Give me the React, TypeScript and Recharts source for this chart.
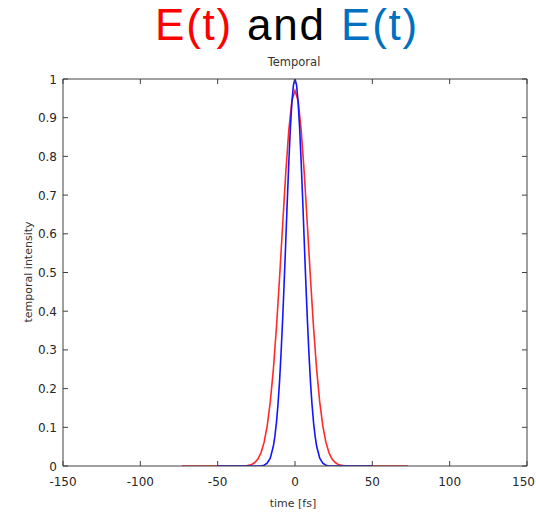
import { LineChart, Line, XAxis, YAxis } from 'recharts';

const xTicks = [-150, -100, -50, 0, 50, 100, 150];
const yTicks = [0, 0.1, 0.2, 0.3, 0.4, 0.5, 0.6, 0.7, 0.8, 0.9, 1];

// wider pulse (red)
const redTime = [-73, -40, -32, -30, -28, -26, -24, -22, -20, -18, -16, -14, -12, -10, -8, -6, -4, -2, 0,
  2, 4, 6, 8, 10, 12, 14, 16, 18, 20, 22, 24, 26, 28, 30, 32, 40, 73];
const redIntensity = [0, 0, 0, 0.002, 0.004, 0.009, 0.018, 0.034, 0.061, 0.103, 0.165, 0.249, 0.358, 0.485, 0.622, 0.756, 0.868, 0.944, 0.97,
  0.944, 0.868, 0.756, 0.622, 0.485, 0.358, 0.249, 0.165, 0.103, 0.061, 0.034, 0.018, 0.009, 0.004, 0.002, 0, 0, 0];

// narrower pulse (blue)
const blueTime = [-50, -24, -22, -20, -18, -16, -14, -13, -12, -11, -10, -9, -8, -7, -6, -5, -4, -3, -2, -1, 0,
  1, 2, 3, 4, 5, 6, 7, 8, 9, 10, 11, 12, 13, 14, 16, 18, 20, 22, 24, 50];
const blueIntensity = [0, 0, 0, 0.002, 0.007, 0.02, 0.051, 0.077, 0.112, 0.159, 0.218, 0.292, 0.378, 0.474, 0.578, 0.684, 0.784, 0.872, 0.941, 0.985, 1,
  0.985, 0.941, 0.872, 0.784, 0.684, 0.578, 0.474, 0.378, 0.292, 0.218, 0.159, 0.112, 0.077, 0.051, 0.02, 0.007, 0.002, 0, 0, 0];

const redData = redTime.map((t, i) => ({ t, v: redIntensity[i] }));
const blueData = blueTime.map((t, i) => ({ t, v: blueIntensity[i] }));

const AXIS = '#404040';
const TEXT = '#262626';
const SMALL_FONT = '"DejaVu Sans", sans-serif';
const TITLE_FONT = '"Liberation Sans", Arial, sans-serif';

const BottomTick = (props: any) => {
  const { x, y, payload } = props;
  // last label would run off the page edge, pull it in a bit
  const last = payload.value === xTicks[xTicks.length - 1];
  return (
    <g>
      <line x1={x} y1={y} x2={x} y2={y - 5} stroke={AXIS} />
      <text
        x={last ? 535 : x}
        y={y + 20}
        textAnchor={last ? 'end' : 'middle'}
        fontSize={12}
        fontFamily={SMALL_FONT}
        fill={TEXT}
      >
        {payload.value}
      </text>
    </g>
  );
};

const TopTick = (props: any) => {
  const { x, y } = props;
  return <line x1={x} y1={y} x2={x} y2={y + 5} stroke={AXIS} />;
};

const LeftTick = (props: any) => {
  const { x, y, payload } = props;
  return (
    <g>
      <line x1={x} y1={y} x2={x + 5} y2={y} stroke={AXIS} />
      <text x={x - 6} y={y + 4.5} textAnchor="end" fontSize={12} fontFamily={SMALL_FONT} fill={TEXT}>
        {payload.value}
      </text>
    </g>
  );
};

const RightTick = (props: any) => {
  const { x, y } = props;
  return <line x1={x} y1={y} x2={x - 5} y2={y} stroke={AXIS} />;
};

export default function App() {
  return (
    <div style={{ position: 'absolute', left: 0, top: 0, width: 536, height: 517, background: '#fff' }}>
      <LineChart width={536} height={517} margin={{ top: 78, right: 8, left: 0, bottom: 0 }}>
        <XAxis
          xAxisId="bottom"
          type="number"
          dataKey="t"
          domain={[-150, 150]}
          ticks={xTicks}
          allowDataOverflow
          height={51}
          tickSize={0}
          tickMargin={0}
          tickLine={false}
          axisLine={{ stroke: AXIS }}
          tick={<BottomTick />}
          interval={0}
        />
        <XAxis
          xAxisId="top"
          orientation="top"
          type="number"
          dataKey="t"
          domain={[-150, 150]}
          ticks={xTicks}
          allowDataOverflow
          height={1}
          tickSize={0}
          tickMargin={0}
          tickLine={false}
          axisLine={{ stroke: AXIS }}
          tick={<TopTick />}
          interval={0}
        />
        <YAxis
          yAxisId="left"
          type="number"
          domain={[0, 1]}
          ticks={yTicks}
          allowDataOverflow
          width={63}
          tickSize={0}
          tickMargin={0}
          tickLine={false}
          axisLine={{ stroke: AXIS }}
          tick={<LeftTick />}
          interval={0}
        />
        <YAxis
          yAxisId="right"
          orientation="right"
          type="number"
          domain={[0, 1]}
          ticks={yTicks}
          allowDataOverflow
          width={1}
          tickSize={0}
          tickMargin={0}
          tickLine={false}
          axisLine={{ stroke: AXIS }}
          tick={<RightTick />}
          interval={0}
        />
        <Line
          xAxisId="bottom"
          yAxisId="left"
          data={redData}
          dataKey="v"
          type="linear"
          stroke="#ff2a2a"
          strokeWidth={1.6}
          dot={false}
          isAnimationActive={false}
        />
        <Line
          xAxisId="top"
          yAxisId="right"
          data={blueData}
          dataKey="v"
          type="linear"
          stroke="#1414ff"
          strokeWidth={1.6}
          dot={false}
          isAnimationActive={false}
        />
      </LineChart>
      <svg
        width={536}
        height={517}
        style={{ position: 'absolute', left: 0, top: 0, pointerEvents: 'none' }}
      >
        <text x={155} y={40} fontSize={44} fontFamily={TITLE_FONT} letterSpacing={1.8} fill="#ff0000">
          E(t)
        </text>
        <text x={247} y={40} fontSize={44} fontFamily={TITLE_FONT} letterSpacing={1.8} fill="#000000">
          and
        </text>
        <text x={341} y={40} fontSize={44} fontFamily={TITLE_FONT} letterSpacing={1.8} fill="#0070c0">
          E(t)
        </text>
        <text x={294} y={66} textAnchor="middle" fontSize={11.5} fontFamily={SMALL_FONT} fill="#333">
          Temporal
        </text>
        <text x={293} y={507} textAnchor="middle" fontSize={11} fontFamily={SMALL_FONT} fill="#333">
          time [fs]
        </text>
        <text
          x={32}
          y={272}
          textAnchor="middle"
          fontSize={11}
          fontFamily={SMALL_FONT}
          fill="#333"
          transform="rotate(-90 32 272)"
        >
          temporal intensity
        </text>
      </svg>
    </div>
  );
}
